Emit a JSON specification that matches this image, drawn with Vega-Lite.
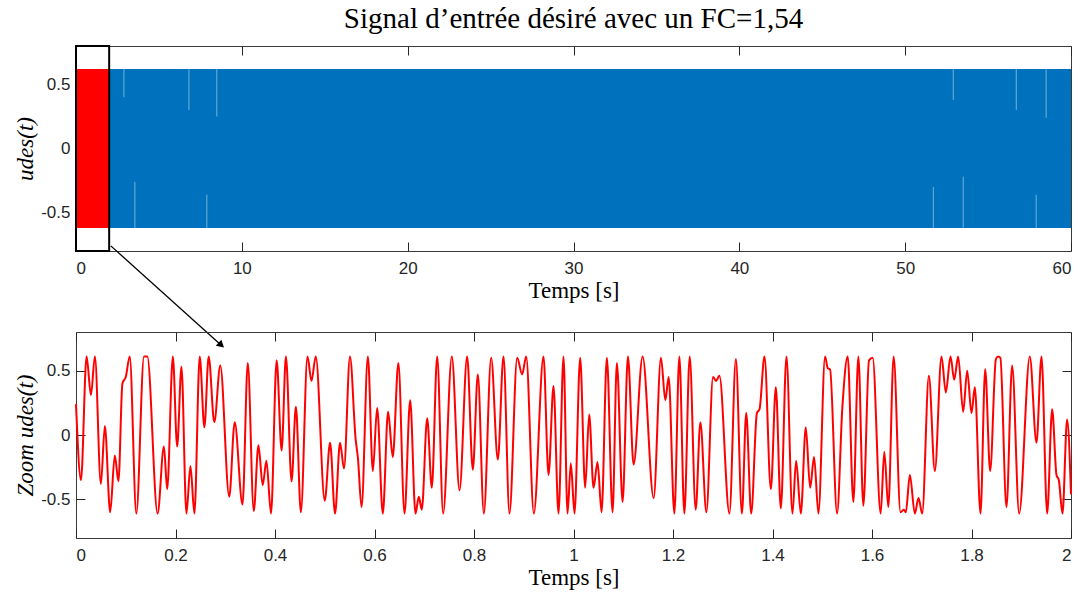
{
  "$schema": "https://vega.github.io/schema/vega-lite/v6.json",
  "background": "white",
  "padding": {"left": 14, "top": 4, "right": 5, "bottom": 5},
  "bounds": "flush",
  "spacing": 81,
  "config": {
    "view": {"stroke": "#3a3a3a", "strokeWidth": 1},
    "axis": {
      "domain": false,
      "grid": false,
      "tickSize": -9,
      "tickColor": "#262626",
      "tickWidth": 1,
      "labelFont": "Liberation Sans",
      "labelFontSize": 17,
      "labelColor": "#262626",
      "titleFont": "Liberation Serif",
      "titleFontSize": 23,
      "titleFontWeight": "normal",
      "titleColor": "#000000"
    }
  },
  "datasets": {
    "zoom": [
      {"t":0,"v":0.24},{"t":0.010,"v":-0.35},{"t":0.0213,"v":0.61},{"t":0.030,"v":0.31},{"t":0.038,"v":0.61},
      {"t":0.050,"v":-0.38},{"t":0.058,"v":0.07},{"t":0.0687,"v":-0.60},{"t":0.078,"v":-0.16},{"t":0.0853,"v":-0.36},
      {"t":0.0933,"v":0.40},{"t":0.100,"v":0.45},{"t":0.108,"v":0.61},{"t":0.1213,"v":-0.61},{"t":0.1367,"v":0.61},
      {"t":0.1433,"v":0.61},{"t":0.164,"v":-0.61},{"t":0.1767,"v":-0.09},{"t":0.1833,"v":-0.42},{"t":0.1947,"v":0.61},
      {"t":0.2033,"v":-0.09},{"t":0.212,"v":0.53},{"t":0.222,"v":-0.61},{"t":0.230,"v":-0.24},{"t":0.238,"v":-0.61},
      {"t":0.2487,"v":0.61},{"t":0.258,"v":0.06},{"t":0.2667,"v":0.61},{"t":0.278,"v":0.10},{"t":0.290,"v":0.54},
      {"t":0.308,"v":-0.48},{"t":0.319,"v":0.10},{"t":0.3347,"v":-0.54},{"t":0.3453,"v":0.56},{"t":0.3573,"v":-0.59},
      {"t":0.3667,"v":-0.08},{"t":0.3753,"v":-0.39},{"t":0.3827,"v":-0.20},{"t":0.392,"v":-0.61},{"t":0.4033,"v":0.58},
      {"t":0.4133,"v":-0.12},{"t":0.422,"v":0.61},{"t":0.4333,"v":-0.36},{"t":0.442,"v":0.22},{"t":0.452,"v":-0.60},
      {"t":0.4653,"v":0.61},{"t":0.4733,"v":0.42},{"t":0.482,"v":0.61},{"t":0.500,"v":-0.51},{"t":0.5107,"v":-0.06},
      {"t":0.5207,"v":-0.61},{"t":0.5307,"v":-0.06},{"t":0.5387,"v":-0.26},{"t":0.5507,"v":0.61},{"t":0.562,"v":-0.03},
      {"t":0.5667,"v":-0.18},{"t":0.574,"v":-0.56},{"t":0.5867,"v":0.61},{"t":0.5967,"v":-0.28},{"t":0.6053,"v":0.21},
      {"t":0.6167,"v":-0.61},{"t":0.6273,"v":0.18},{"t":0.6367,"v":-0.17},{"t":0.648,"v":0.56},{"t":0.6603,"v":-0.61},
      {"t":0.6717,"v":0.27},{"t":0.6824,"v":-0.61},{"t":0.6891,"v":-0.48},{"t":0.6951,"v":-0.58},{"t":0.7059,"v":0.13},
      {"t":0.7152,"v":-0.41},{"t":0.7260,"v":0.61},{"t":0.738,"v":-0.61},{"t":0.7554,"v":0.61},{"t":0.7709,"v":-0.43},
      {"t":0.7862,"v":0.61},{"t":0.7976,"v":-0.27},{"t":0.8077,"v":0.47},{"t":0.8198,"v":-0.61},{"t":0.8345,"v":0.60},
      {"t":0.8479,"v":-0.19},{"t":0.8593,"v":0.61},{"t":0.8713,"v":-0.61},{"t":0.8868,"v":0.60},{"t":0.8968,"v":0.47},
      {"t":0.9049,"v":0.61},{"t":0.9203,"v":-0.61},{"t":0.9397,"v":0.61},{"t":0.9498,"v":-0.31},{"t":0.9598,"v":0.38},
      {"t":0.9699,"v":-0.61},{"t":0.9799,"v":0.61},{"t":0.988,"v":-0.61},{"t":0.9946,"v":-0.22},{"t":1.002,"v":-0.61},
      {"t":1.0134,"v":0.60},{"t":1.0235,"v":-0.41},{"t":1.0315,"v":0.16},{"t":1.0403,"v":-0.41},{"t":1.0483,"v":-0.21},
      {"t":1.0564,"v":-0.60},{"t":1.0671,"v":0.60},{"t":1.0785,"v":-0.60},{"t":1.0872,"v":0.56},{"t":1.0987,"v":-0.52},
      {"t":1.1094,"v":0.61},{"t":1.1208,"v":-0.23},{"t":1.1389,"v":0.61},{"t":1.1611,"v":-0.49},{"t":1.1758,"v":0.60},
      {"t":1.1846,"v":0.27},{"t":1.1913,"v":0.45},{"t":1.2027,"v":-0.61},{"t":1.2128,"v":0.61},{"t":1.2228,"v":-0.61},
      {"t":1.2336,"v":0.61},{"t":1.2456,"v":-0.58},{"t":1.255,"v":0.10},{"t":1.2671,"v":-0.60},{"t":1.2805,"v":0.45},
      {"t":1.2866,"v":0.42},{"t":1.2933,"v":0.46},{"t":1.3134,"v":-0.61},{"t":1.3264,"v":0.59},{"t":1.3385,"v":-0.61},
      {"t":1.3472,"v":0.17},{"t":1.3572,"v":-0.61},{"t":1.3686,"v":0.17},{"t":1.3739,"v":0.20},{"t":1.3839,"v":0.61},
      {"t":1.3967,"v":-0.42},{"t":1.4067,"v":0.37},{"t":1.4167,"v":-0.57},{"t":1.4281,"v":0.61},{"t":1.4401,"v":-0.61},
      {"t":1.4475,"v":-0.20},{"t":1.4569,"v":-0.61},{"t":1.4669,"v":0.06},{"t":1.4756,"v":-0.41},{"t":1.4836,"v":-0.17},
      {"t":1.4923,"v":-0.61},{"t":1.5057,"v":0.61},{"t":1.511,"v":0.52},{"t":1.5157,"v":0.51},{"t":1.5298,"v":-0.61},
      {"t":1.5405,"v":0.22},{"t":1.5512,"v":0.61},{"t":1.5625,"v":-0.52},{"t":1.5726,"v":0.61},{"t":1.5826,"v":-0.55},
      {"t":1.594,"v":0.58},{"t":1.6013,"v":0.60},{"t":1.6174,"v":-0.61},{"t":1.6247,"v":-0.13},{"t":1.6328,"v":-0.56},
      {"t":1.6435,"v":0.61},{"t":1.6573,"v":-0.60},{"t":1.664,"v":-0.58},{"t":1.668,"v":-0.60},{"t":1.6761,"v":-0.31},
      {"t":1.6861,"v":-0.61},{"t":1.6935,"v":-0.49},{"t":1.7009,"v":-0.61},{"t":1.7143,"v":0.46},{"t":1.7263,"v":-0.28},
      {"t":1.7397,"v":0.61},{"t":1.7484,"v":0.33},{"t":1.7578,"v":0.61},{"t":1.7652,"v":0.43},{"t":1.7732,"v":0.61},
      {"t":1.7833,"v":0.18},{"t":1.7913,"v":0.50},{"t":1.800,"v":0.17},{"t":1.8067,"v":0.37},{"t":1.8181,"v":-0.61},
      {"t":1.8275,"v":0.51},{"t":1.8375,"v":-0.28},{"t":1.8490,"v":0.59},{"t":1.8536,"v":0.61},{"t":1.8580,"v":0.60},
      {"t":1.8703,"v":-0.56},{"t":1.8817,"v":0.54},{"t":1.8958,"v":-0.61},{"t":1.9172,"v":0.61},{"t":1.9306,"v":-0.06},
      {"t":1.9407,"v":0.61},{"t":1.9521,"v":-0.61},{"t":1.9621,"v":0.20},{"t":1.9708,"v":-0.31},{"t":1.9755,"v":-0.35},
      {"t":1.9829,"v":-0.61},{"t":1.9922,"v":0.12},{"t":2.0,"v":-0.46}
    ],
    "streaks": [
      {"x": 2.89, "y0": 0.62, "y1": 0.40},
      {"x": 3.55, "y0": -0.62, "y1": -0.26},
      {"x": 6.81, "y0": 0.62, "y1": 0.30},
      {"x": 7.89, "y0": -0.62, "y1": -0.36},
      {"x": 8.49, "y0": 0.62, "y1": 0.25},
      {"x": 51.7, "y0": -0.62, "y1": -0.30},
      {"x": 52.9, "y0": 0.62, "y1": 0.38},
      {"x": 53.5, "y0": -0.62, "y1": -0.22},
      {"x": 56.7, "y0": 0.62, "y1": 0.30},
      {"x": 57.9, "y0": -0.62, "y1": -0.36},
      {"x": 58.5, "y0": 0.62, "y1": 0.24}
    ]
  },
  "vconcat": [
    {
      "width": 995,
      "height": 205,
      "title": {"text": "Signal d’entrée désiré avec un FC=1,54", "font": "Liberation Serif", "fontSize": 29, "fontWeight": "normal", "color": "#000000", "anchor": "middle", "offset": 11},
      "layer": [
        {
          "data": {"values": [{"x0": 2, "x1": 60, "y0": -0.62, "y1": 0.62}]},
          "mark": {"type": "rect", "color": "#0072BD"},
          "encoding": {
            "x": {"field": "x0", "type": "quantitative", "scale": {"domain": [0, 60], "nice": false, "zero": false},
                  "axis": {"orient": "bottom", "values": [0,10,20,30,40,50,60], "labelPadding": 18, "title": "Temps [s]", "titlePadding": 3}},
            "x2": {"field": "x1"},
            "y": {"field": "y0", "type": "quantitative", "scale": {"domain": [-0.8, 0.8], "nice": false, "zero": false},
                  "axis": {"orient": "left", "values": [-0.5, 0, 0.5], "labelExpr": "toString(datum.value)", "labelPadding": 15, "title": "udes(t)", "titleFontStyle": "italic", "titlePadding": 3}},
            "y2": {"field": "y1"}
          }
        },
        {
          "data": {"name": "streaks"},
          "mark": {"type": "rule", "color": "#ffffff", "opacity": 0.45, "strokeWidth": 1},
          "encoding": {
            "x": {"field": "x", "type": "quantitative", "axis": null},
            "y": {"field": "y0", "type": "quantitative", "axis": null},
            "y2": {"field": "y1"}
          }
        },
        {
          "data": {"values": [{"x0": 0, "x1": 2, "y0": -0.62, "y1": 0.62}]},
          "mark": {"type": "rect", "color": "#FF0000"},
          "encoding": {
            "x": {"field": "x0", "type": "quantitative", "axis": null},
            "x2": {"field": "x1"},
            "y": {"field": "y0", "type": "quantitative", "axis": null},
            "y2": {"field": "y1"}
          }
        },
        {
          "data": {"values": [{"x0": 0, "x1": 2, "y0": -0.8, "y1": 0.8}]},
          "mark": {"type": "rect", "fill": null, "fillOpacity": 0, "stroke": "#000000", "strokeWidth": 2},
          "encoding": {
            "x": {"field": "x0", "type": "quantitative",
                  "axis": {"orient": "top", "values": [0,10,20,30,40,50,60], "labels": false, "title": null}},
            "x2": {"field": "x1"},
            "y": {"field": "y0", "type": "quantitative",
                  "axis": {"orient": "right", "values": [-0.5, 0, 0.5], "labels": false, "title": null}},
            "y2": {"field": "y1"}
          }
        },
        {
          "data": {"values": [{"x0": 2.1, "y0": -0.76, "x1": 8.76, "y1": -1.535}]},
          "mark": {"type": "rule", "color": "#000000", "strokeWidth": 1.3},
          "encoding": {
            "x": {"field": "x0", "type": "quantitative", "axis": null},
            "y": {"field": "y0", "type": "quantitative", "axis": null},
            "x2": {"field": "x1"},
            "y2": {"field": "y1"}
          }
        },
        {
          "data": {"values": [{"x0": 8.76, "y0": -1.535}]},
          "mark": {"type": "point", "shape": "triangle-right", "filled": true, "color": "#000000", "size": 70, "angle": 42, "opacity": 1},
          "encoding": {
            "x": {"field": "x0", "type": "quantitative", "axis": null},
            "y": {"field": "y0", "type": "quantitative", "axis": null}
          }
        }
      ],
      "resolve": {"axis": {"x": "independent", "y": "independent"}}
    },
    {
      "width": 995,
      "height": 206,
      "data": {"name": "zoom"},
      "layer": [
        {
          "mark": {"type": "line", "color": "#FF0000", "strokeWidth": 2, "interpolate": "monotone"},
          "encoding": {
            "x": {"field": "t", "type": "quantitative", "scale": {"domain": [0, 2], "nice": false, "zero": false},
                  "axis": {"orient": "bottom", "values": [0,0.2,0.4,0.6,0.8,1,1.2,1.4,1.6,1.8,2], "labelExpr": "toString(datum.value)", "labelPadding": 18, "title": "Temps [s]", "titlePadding": 3}},
            "y": {"field": "v", "type": "quantitative", "scale": {"domain": [-0.8, 0.8], "nice": false, "zero": false},
                  "axis": {"orient": "left", "values": [-0.5, 0, 0.5], "labelExpr": "toString(datum.value)", "labelPadding": 15, "title": "Zoom udes(t)", "titleFontStyle": "italic", "titlePadding": 3}}
          }
        },
        {
          "mark": {"type": "line", "strokeOpacity": 0},
          "encoding": {
            "x": {"field": "t", "type": "quantitative",
                  "axis": {"orient": "top", "values": [0,0.2,0.4,0.6,0.8,1,1.2,1.4,1.6,1.8,2], "labels": false, "title": null}},
            "y": {"field": "v", "type": "quantitative",
                  "axis": {"orient": "right", "values": [-0.5, 0, 0.5], "labels": false, "title": null}}
          }
        }
      ],
      "resolve": {"axis": {"x": "independent", "y": "independent"}}
    }
  ]
}
